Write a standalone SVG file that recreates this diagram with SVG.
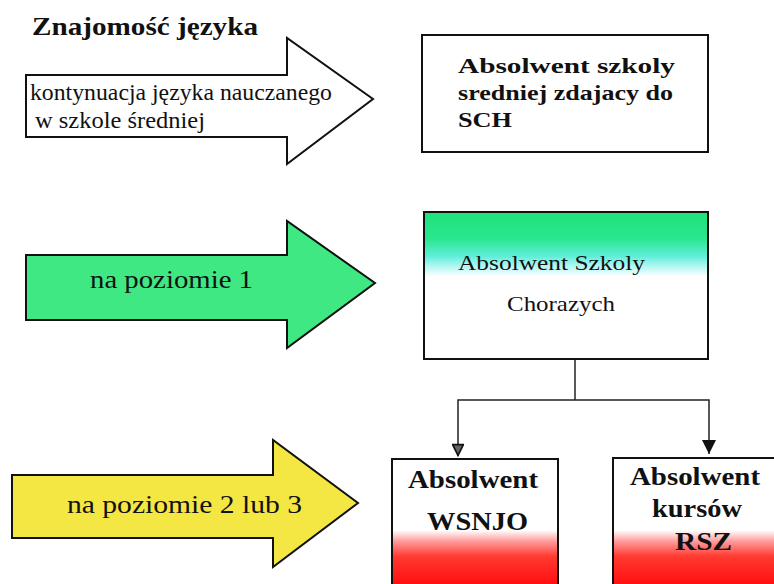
<svg xmlns="http://www.w3.org/2000/svg" width="774" height="584" viewBox="0 0 774 584">
  <defs>
    <linearGradient id="gradGreen" x1="0" y1="212" x2="0" y2="359" gradientUnits="userSpaceOnUse">
      <stop offset="0" stop-color="#1ee27a"/>
      <stop offset="0.18" stop-color="#2ae68e"/>
      <stop offset="0.30" stop-color="#5eeed8"/>
      <stop offset="0.36" stop-color="#a8f6f0"/>
      <stop offset="0.44" stop-color="#ffffff"/>
      <stop offset="1" stop-color="#ffffff"/>
    </linearGradient>
    <linearGradient id="gradRed" x1="0" y1="459" x2="0" y2="584" gradientUnits="userSpaceOnUse">
      <stop offset="0" stop-color="#ffffff"/>
      <stop offset="0.57" stop-color="#ffffff"/>
      <stop offset="0.66" stop-color="#ff9a9a"/>
      <stop offset="0.78" stop-color="#ff3a30"/>
      <stop offset="1" stop-color="#ff1010"/>
    </linearGradient>
    <!-- arrowheads drawn pointing along +x; orient="auto" turns them along the line -->
    <marker id="headOpen" viewBox="0 0 10 10" refX="10" refY="5" markerWidth="14" markerHeight="12" markerUnits="userSpaceOnUse" orient="auto">
      <path d="M0.5,0.5 L9.5,5 L0.5,9.5 Z" fill="#666" stroke="#111" stroke-width="1.4"/>
    </marker>
    <marker id="headFill" viewBox="0 0 10 10" refX="10" refY="5" markerWidth="14" markerHeight="14" markerUnits="userSpaceOnUse" orient="auto">
      <path d="M0,0 L10,5 L0,10 Z" fill="#111"/>
    </marker>
  </defs>
  <style>
    .arrow { stroke: #111; stroke-width: 2; stroke-linejoin: miter; }
    .box { stroke: #111; stroke-width: 2; }
    text { fill: #111; }
    .bold { font-weight: bold; }
    .link { fill: none; stroke: #222; stroke-width: 1.5; }
  </style>

  <rect width="774" height="584" fill="#ffffff"/>

  <g font-family="'Liberation Serif', 'Times New Roman', serif">
  <!-- heading -->
  <text class="bold" x="32" y="35" font-size="26" textLength="226" lengthAdjust="spacingAndGlyphs">Znajomość języka</text>

  <!-- white arrow: continuation of language -->
  <g id="arrow-continuation">
    <polygon class="arrow" fill="#ffffff" points="26,75 287,75 287,38 373,99 287,164 287,137 26,137"/>
    <text x="30" y="100" font-size="23" textLength="302" lengthAdjust="spacingAndGlyphs">kontynuacja języka nauczanego</text>
    <text x="35" y="128" font-size="23" textLength="170" lengthAdjust="spacingAndGlyphs">w szkole średniej</text>
  </g>

  <g id="box-sch">
    <rect class="box" x="422" y="35" width="286" height="117" fill="#ffffff"/>
    <text class="bold" x="458" y="73" font-size="22" textLength="217" lengthAdjust="spacingAndGlyphs">Absolwent  szkoly</text>
    <text class="bold" x="458" y="100" font-size="22" textLength="215" lengthAdjust="spacingAndGlyphs">sredniej zdajacy do</text>
    <text class="bold" x="458" y="127" font-size="22" textLength="54" lengthAdjust="spacingAndGlyphs">SCH</text>
  </g>

  <!-- green arrow: level 1 -->
  <g id="arrow-level1">
    <polygon class="arrow" fill="#3fe882" points="26,255 287,255 287,221 375,283 287,348 287,320 26,320"/>
    <text x="90" y="288" font-size="26" textLength="163" lengthAdjust="spacingAndGlyphs">na poziomie 1</text>
  </g>

  <g id="box-chorazych">
    <rect class="box" x="424" y="212" width="284" height="147" fill="url(#gradGreen)"/>
    <text x="458" y="270" font-size="22" textLength="187" lengthAdjust="spacingAndGlyphs">Absolwent Szkoly</text>
    <text x="507" y="311" font-size="22" textLength="108" lengthAdjust="spacingAndGlyphs">Chorazych</text>
  </g>

  <!-- yellow arrow: level 2 or 3 -->
  <g id="arrow-level2-3">
    <polygon class="arrow" fill="#f4e743" points="12,475 273,475 273,440 358,503 273,567 273,538 12,538"/>
    <text x="67" y="513" font-size="25" textLength="235" lengthAdjust="spacingAndGlyphs">na poziomie 2 lub 3</text>
  </g>

  <g id="box-wsnjo">
    <rect class="box" x="392" y="459" width="166" height="135" fill="url(#gradRed)"/>
    <text class="bold" x="408" y="488" font-size="26" textLength="130" lengthAdjust="spacingAndGlyphs">Absolwent</text>
    <text class="bold" x="427" y="530" font-size="26" textLength="101" lengthAdjust="spacingAndGlyphs">WSNJO</text>
  </g>

  <g id="box-rsz">
    <rect class="box" x="613" y="458" width="175" height="136" fill="url(#gradRed)"/>
    <text class="bold" x="630" y="485" font-size="26" textLength="130" lengthAdjust="spacingAndGlyphs">Absolwent</text>
    <text class="bold" x="652" y="517" font-size="26" textLength="90" lengthAdjust="spacingAndGlyphs">kursów</text>
    <text class="bold" x="675" y="550" font-size="26" textLength="57" lengthAdjust="spacingAndGlyphs">RSZ</text>
  </g>
  </g>

  <!-- connectors from the warrant-officer school box -->
  <g id="connectors">
    <path class="link" d="M575,360 L575,400"/>
    <path class="link" d="M575,400 L458,400 L458,456" marker-end="url(#headOpen)"/>
    <path class="link" d="M575,400 L709,400 L709,454" marker-end="url(#headFill)"/>
  </g>
</svg>
